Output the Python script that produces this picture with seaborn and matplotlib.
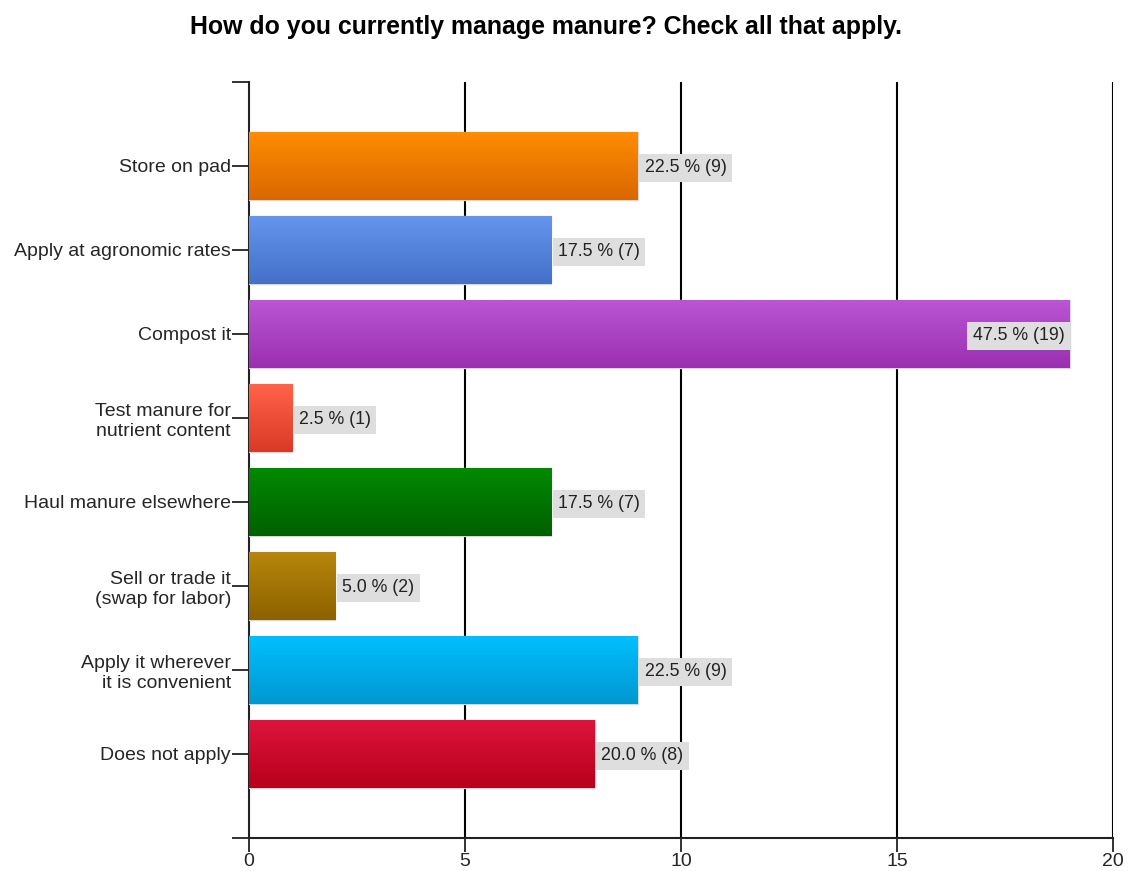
import numpy as np
import pandas as pd
import matplotlib
matplotlib.use("Agg")
import matplotlib.pyplot as plt
import matplotlib.colors as mcolors
import seaborn as sns

categories = ["Store on pad", "Apply at agronomic rates", "Compost it",
              "Test manure for\nnutrient content", "Haul manure elsewhere",
              "Sell or trade it\n(swap for labor)", "Apply it wherever\nit is convenient",
              "Does not apply"]
counts = [9, 7, 19, 1, 7, 2, 9, 8]
percents = [22.5, 17.5, 47.5, 2.5, 17.5, 5.0, 22.5, 20.0]
top_colors = ["#FF8C00", "#6495ED", "#BA55D3", "#FF6347", "#008A00", "#B8860B", "#00BFFF", "#DC143C"]
bottom_colors = ["#D96800", "#4470C8", "#9A30B0", "#D83A28", "#006000", "#8C6200", "#0098D0", "#B8001C"]

sns.set_theme(style="white")
plt.rcParams['font.family'] = ['Liberation Sans', 'DejaVu Sans']

df = pd.DataFrame({"cat": categories, "count": counts})

fig = plt.figure(figsize=(11.29, 8.71), dpi=100)
ax = fig.add_axes([0.2205, 0.0379, 0.9858 - 0.2205, 0.9059 - 0.0379])

sns.barplot(data=df, y="cat", x="count", hue="cat", palette=top_colors,
            legend=False, orient="h", width=0.8, ax=ax, zorder=3,
            edgecolor="#D8D8D8", linewidth=1)

ax.set_xlim(0, 20)
ax.set_ylim(8, -1)

# gradient fill
for i, p in enumerate(ax.patches):
    x0, y0 = p.get_x(), p.get_y()
    w, h = p.get_width(), p.get_height()
    c1 = np.array(mcolors.to_rgb(top_colors[i]))
    c2 = np.array(mcolors.to_rgb(bottom_colors[i]))
    t = np.linspace(0, 1, 64)[:, None]
    grad = (c1[None, :] * (1 - t) + c2[None, :] * t)[:, None, :]
    im = ax.imshow(grad, extent=[x0, x0 + w, y0 + h, y0], aspect="auto",
                   zorder=3.5, interpolation="bilinear")
    im.set_clip_path(p)

ax.set_xlim(0, 20)
ax.set_ylim(8, -1)

# grid
ax.set_xticks([0, 5, 10, 15, 20])
for xv in [5, 10, 15, 20]:
    ax.axvline(xv, color="black", lw=1.5, zorder=1)

ax.set_yticks(list(range(-1, 9)))
ax.set_yticklabels([""] + categories + [""], fontsize=14)
ax.tick_params(axis="y", length=12, width=1.3, color="#222222", pad=1, left=True)
ax.tick_params(axis="x", length=10, width=1.3, color="#222222", labelsize=14, pad=1, bottom=True)

for s in ["top", "right"]:
    ax.spines[s].set_visible(False)
for s in ["left", "bottom"]:
    ax.spines[s].set_color("#222222")
    ax.spines[s].set_linewidth(1.5)
ax.set_xlabel("")
ax.set_ylabel("")

# labels
for i, (c, pc) in enumerate(zip(counts, percents)):
    txt = f"{pc:.1f} % ({c})"
    if c >= 15:
        ax.text(c - 0.12, i, txt, ha="right", va="center_baseline", fontsize=12.8, color="#222222",
                zorder=5, bbox=dict(boxstyle="square,pad=0.3", fc="#DEDEDE", ec="none"))
    else:
        ax.text(c + 0.16, i, txt, ha="left", va="center_baseline", fontsize=12.8, color="#222222",
                zorder=5, bbox=dict(boxstyle="square,pad=0.3", fc="#DEDEDE", ec="none"))

fig.text(0.484, 0.969, "How do you currently manage manure? Check all that apply.",
         ha="center", va="center", fontsize=17.9, fontweight="bold", color="black")

fig.savefig("out.png", dpi=100, facecolor="white")
